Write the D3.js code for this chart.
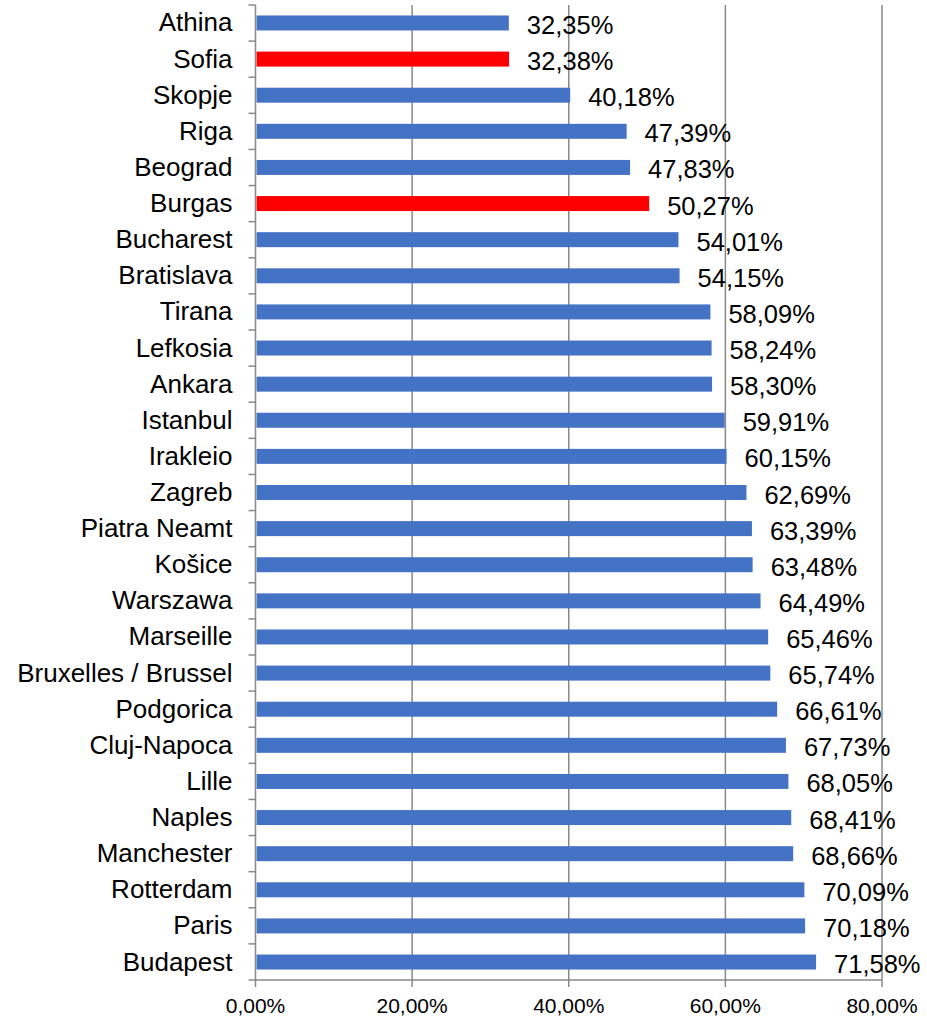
<!DOCTYPE html>
<html><head><meta charset="utf-8">
<script src="https://cdn.jsdelivr.net/npm/d3@7"></script>
<style>body{margin:0;background:#fff}svg{display:block}</style>
</head><body>
<svg id="chart" width="927" height="1017"></svg>
<script>
const categories = ["Athina","Sofia","Skopje","Riga","Beograd","Burgas","Bucharest","Bratislava","Tirana","Lefkosia","Ankara","Istanbul","Irakleio","Zagreb","Piatra Neamt","Košice","Warszawa","Marseille","Bruxelles / Brussel","Podgorica","Cluj-Napoca","Lille","Naples","Manchester","Rotterdam","Paris","Budapest"];
const values = [32.35,32.38,40.18,47.39,47.83,50.27,54.01,54.15,58.09,58.24,58.30,59.91,60.15,62.69,63.39,63.48,64.49,65.46,65.74,66.61,67.73,68.05,68.41,68.66,70.09,70.18,71.58];
const highlighted = ["Sofia","Burgas"];
const xTicks = [0,20,40,60,80];

const fmt = v => v.toFixed(2).replace(".", ",") + "%";
const svg = d3.select("#chart");
const pLeft = 255.5, pRight = 882, pTop = 5, pBottom = 980;
const x = d3.scaleLinear().domain([0,80]).range([pLeft,pRight]);
const y = d3.scaleBand().domain(categories).range([pTop,pBottom]).paddingInner(0.585).paddingOuter(0.29);

// gridlines
svg.append("g").selectAll("line").data(xTicks.slice(1)).join("line")
  .attr("x1", d=>x(d)).attr("x2", d=>x(d)).attr("y1", pTop).attr("y2", pBottom)
  .attr("stroke", "#888").attr("stroke-width", 1.5);

// bars
svg.append("g").selectAll("rect").data(categories).join("rect")
  .attr("x", x(0)+1).attr("y", d=>y(d))
  .attr("width", (d,i)=>x(values[i])-x(0)-1).attr("height", y.bandwidth())
  .attr("fill", d=>highlighted.includes(d) ? "#FF0000" : "#4472C4");

// value labels
svg.append("g").selectAll("text").data(categories).join("text")
  .attr("x", (d,i)=>x(values[i])+18).attr("y", d=>y(d)+y.bandwidth()/2+11)
  .attr("font-family", "Liberation Sans, Arial, sans-serif").attr("font-size", 25.5)
  .attr("fill", "#000").text((d,i)=>fmt(values[i]));

// left axis
const boundaries = d3.range(categories.length+1).map(i=>pTop + i*(pBottom-pTop)/categories.length);
svg.append("line").attr("x1", pLeft).attr("x2", pLeft).attr("y1", pTop).attr("y2", pBottom)
  .attr("stroke", "#888").attr("stroke-width", 1.5);
svg.append("g").selectAll("line").data(boundaries).join("line")
  .attr("x1", pLeft-7).attr("x2", pLeft).attr("y1", d=>d).attr("y2", d=>d)
  .attr("stroke", "#888").attr("stroke-width", 1.5);
svg.append("g").selectAll("text").data(categories).join("text")
  .attr("x", pLeft-23).attr("y", d=>y(d)+y.bandwidth()/2+8.5)
  .attr("text-anchor", "end")
  .attr("font-family", "Liberation Sans, Arial, sans-serif").attr("font-size", 26)
  .attr("fill", "#000").text(d=>d);

// bottom axis
svg.append("line").attr("x1", pLeft).attr("x2", pRight).attr("y1", pBottom).attr("y2", pBottom)
  .attr("stroke", "#888").attr("stroke-width", 1.5);
svg.append("g").selectAll("line").data(xTicks).join("line")
  .attr("x1", d=>x(d)).attr("x2", d=>x(d)).attr("y1", pBottom).attr("y2", pBottom+7)
  .attr("stroke", "#888").attr("stroke-width", 1.5);
svg.append("g").selectAll("text").data(xTicks).join("text")
  .attr("x", d=>x(d)).attr("y", 1013)
  .attr("text-anchor", "middle")
  .attr("font-family", "Liberation Sans, Arial, sans-serif").attr("font-size", 21)
  .attr("fill", "#000").text(d=>d.toFixed(2).replace(".", ",")+"%");
</script>
</body></html>
